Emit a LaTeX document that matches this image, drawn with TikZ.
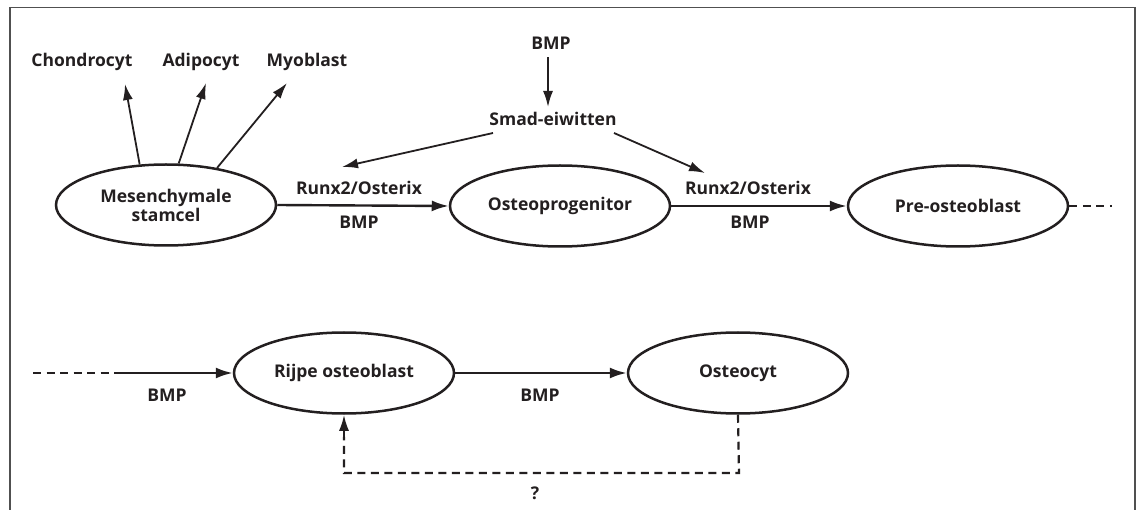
\documentclass[tikz,border=0pt]{standalone}
\usepackage{fontspec}
\setmainfont{Open Sans}
\usetikzlibrary{shapes.geometric,arrows.meta,calc}
\definecolor{ink}{HTML}{231F20}
\definecolor{framec}{HTML}{505050}
\begin{document}
\begin{tikzpicture}[x=1pt,y=-1pt,
  every node/.style={text=ink,font=\bfseries\fontsize{17.5}{20}\selectfont},
  cell/.style={draw=ink,line width=2.5pt,ellipse,minimum width=220pt,minimum height=81pt,inner sep=0pt,align=center},
  lbl/.style={inner sep=0pt},
  arr/.style={draw=ink,line width=1.8pt,-{Latex[length=16pt,width=10pt]}},
  mainarr/.style={draw=ink,line width=2.4pt,-{Latex[length=17pt,width=11pt]}},
  dline/.style={draw=ink,line width=2.2pt,dash pattern=on 8pt off 5.5pt}]
\useasboundingbox (0,0) rectangle (1140,510);
\draw[framec,line width=1.6pt] (10,510) -- (10,7.5) -- (1135,7.5) -- (1135,510);
% cells
\node[cell] (msc) at (166,205) {Mesenchymale\\[-1pt]stamcel};
\node[cell] (op) at (560,206) {Osteoprogenitor};
\node[cell] (pre) at (958,206) {Pre-osteoblast};
\node[cell] (rijpe) at (344,373) {Rijpe osteoblast};
\node[cell] (ocyt) at (738,373) {Osteocyt};
% top labels
\node[lbl] (chon) at (82,62) {Chondrocyt};
\node[lbl] (adi) at (201,62) {Adipocyt};
\node[lbl] (myo) at (307,62) {Myoblast};
\node[lbl] (bmptop) at (551,43) {BMP};
\node[lbl] (smad) at (553,119) {Smad-eiwitten};
\node[lbl] (runxa) at (359,188) {Runx2/Osterix};
\node[lbl] (bmpa) at (359,222) {BMP};
\node[lbl] (runxb) at (748,188) {Runx2/Osterix};
\node[lbl] (bmpb) at (750,222) {BMP};
\node[lbl] (bmpc) at (167,395) {BMP};
\node[lbl] (bmpd) at (540,395) {BMP};
\node[lbl] (q) at (535,493) {?};
% free ends
\coordinate (tchon) at (125,84);
\coordinate (tadi) at (206,83);
\coordinate (tmyo) at (287,83);
\coordinate (sa) at (493,133);
\coordinate (sb) at (614,133);
\coordinate (ta) at (342,167);
\coordinate (tb) at (705,173);
\coordinate (preend) at (1112,206);
\coordinate (lstart) at (33,373);
\coordinate (lmid) at (117,373);
\coordinate (fb) at (739,473);
% connectors
\draw[arr] (msc.123) -- (tchon);
\draw[arr] (msc.73) -- (tadi);
\draw[arr] (msc.36) -- (tmyo);
\draw[arr] ([xshift=-3pt]bmptop.south) ++(0,8) -- (548,107);
\draw[arr] (sa) -- (ta);
\draw[arr] (sb) -- (tb);
\draw[mainarr] (msc.east) -- (op.west);
\draw[mainarr] (op.east) -- (pre.west);
\draw[dline] (pre.east) -- (preend);
\draw[dline] (lstart) -- (lmid);
\draw[mainarr] (lmid) -- (rijpe.west);
\draw[mainarr] (rijpe.east) -- (ocyt.west);
\draw[dline] (ocyt.south) -- (fb) -| ([yshift=-22pt]rijpe.south);
\draw[arr,line width=2.2pt] ([yshift=-24pt]rijpe.south) -- (rijpe.south);
\end{tikzpicture}
\end{document}
